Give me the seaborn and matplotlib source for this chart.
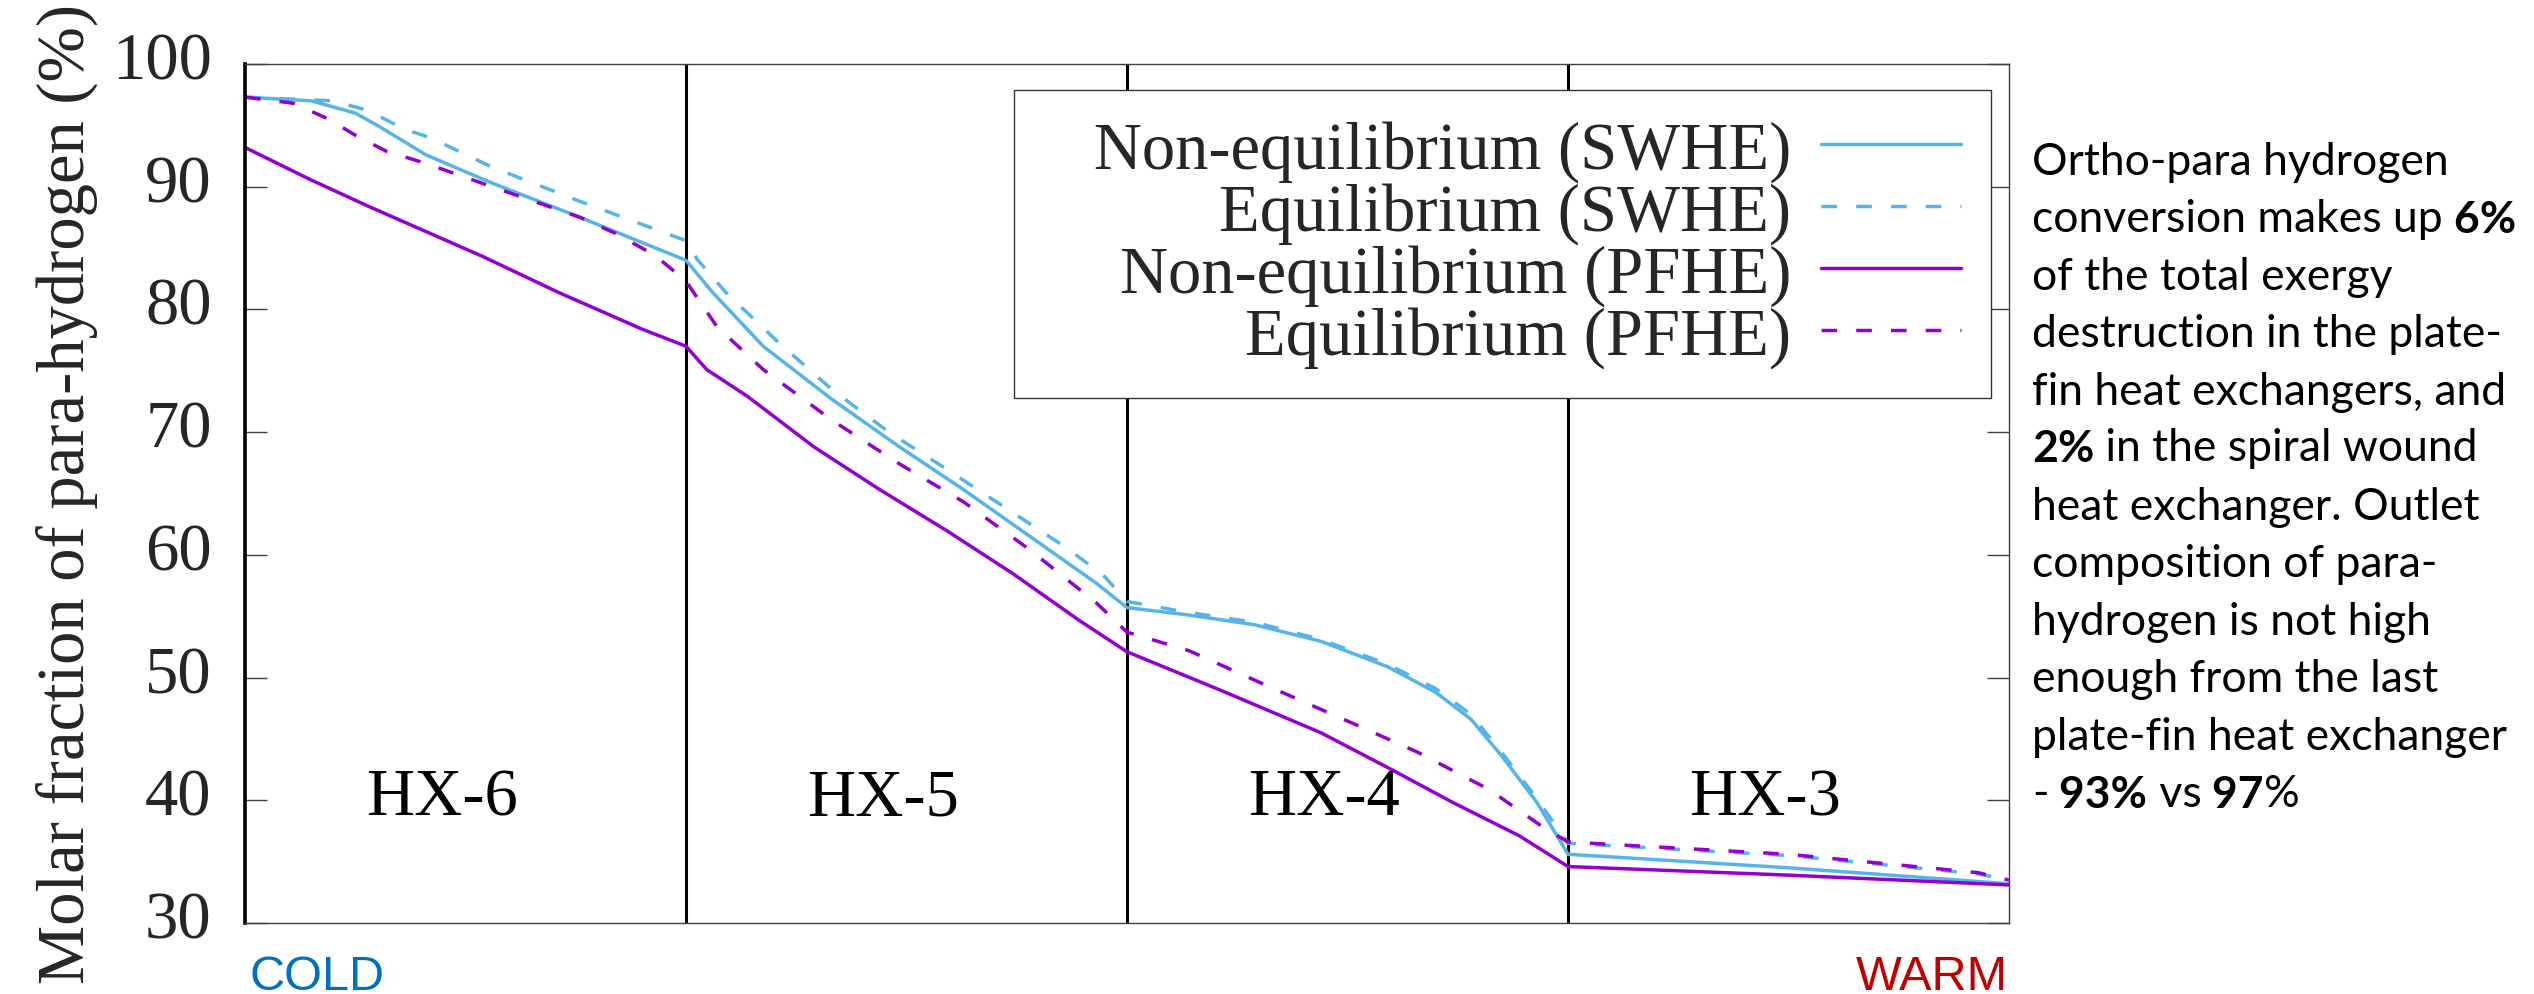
import numpy as np
import pandas as pd
import matplotlib
matplotlib.use("Agg")
import matplotlib.pyplot as plt
import matplotlib.transforms as mtransforms
import seaborn as sns

# ---------------- data ----------------
exchangers = ["HX-6", "HX-5", "HX-4", "HX-3"]
yticks = [30, 40, 50, 60, 70, 80, 90, 100]

swhe_noneq_x = [0, 0.15, 0.25, 0.30, 0.36, 0.41, 0.56, 0.76, 1.0, 1.06, 1.175, 1.33, 1.48,
                1.63, 1.78, 1.93, 2.0, 2.14, 2.29, 2.44, 2.59, 2.70, 2.78, 2.85, 2.93, 3.0, 3.5, 4.0]
swhe_noneq_y = [97.3, 97.0, 96.0, 95.0, 93.7, 92.6, 90.3, 87.5, 84.0, 81.4, 77.0, 72.7, 68.9,
                65.3, 61.5, 57.7, 55.7, 55.1, 54.3, 52.95, 50.9, 48.8, 46.6, 43.6, 39.8, 35.6, 34.5, 33.2]

swhe_eq_x = [0, 0.2, 0.28, 0.36, 0.42, 0.56, 0.76, 1.0, 1.025, 1.09, 1.21, 1.33, 1.46, 1.59,
             1.73, 1.87, 1.95, 2.0, 2.14, 2.29, 2.44, 2.59, 2.70, 2.78, 2.85, 2.93, 3.0, 3.5, 3.93, 4.0]
swhe_eq_y = [97.3, 97.0, 96.2, 94.7, 94.0, 91.6, 88.8, 85.6, 84.1, 81.4, 77.3, 73.5, 70.0, 67.0,
             63.7, 60.4, 58.2, 56.2, 55.3, 54.5, 53.1, 51.1, 49.1, 47.0, 43.9, 40.1, 36.5, 35.5, 34.0, 33.5]

pfhe_noneq_x = [0, 0.147, 0.28, 0.54, 0.71, 0.90, 1.0, 1.047, 1.14, 1.29, 1.44, 1.59, 1.74, 1.89,
                2.0, 2.21, 2.44, 2.60, 2.74, 2.89, 3.0, 3.5, 4.0]
pfhe_noneq_y = [93.2, 90.6, 88.4, 84.3, 81.4, 78.4, 77.0, 75.1, 72.9, 68.8, 65.3, 62.0, 58.5, 54.7,
                52.1, 49.0, 45.5, 42.5, 39.8, 37.1, 34.6, 33.9, 33.1]

pfhe_eq_x = [0, 0.11, 0.19, 0.25, 0.32, 0.41, 0.56, 0.76, 0.84, 0.93, 1.0, 1.07, 1.175, 1.33, 1.48,
             1.63, 1.78, 1.93, 2.0, 2.14, 2.32, 2.51, 2.66, 2.82, 2.94, 3.0, 3.5, 3.93, 4.0]
pfhe_eq_y = [97.3, 96.8, 95.5, 94.2, 92.9, 91.9, 90.0, 87.5, 86.2, 84.4, 82.3, 78.6, 75.1, 71.0, 67.5,
             64.3, 60.4, 56.1, 53.7, 52.2, 49.3, 46.3, 43.9, 40.9, 37.9, 36.6, 35.6, 34.1, 33.5]

series_labels = ["Non-equilibrium (SWHE)", "Equilibrium (SWHE)",
                 "Non-equilibrium (PFHE)", "Equilibrium (PFHE)"]

note_lines = [
    [("Ortho-para hydrogen", "normal")],
    [("conversion makes up", "normal"), (" 6%", "bold")],
    [("of the total exergy", "normal")],
    [("destruction in the plate-", "normal")],
    [("fin heat exchangers, and", "normal")],
    [("2%", "bold"), (" in the spiral wound", "normal")],
    [("heat exchanger. Outlet", "normal")],
    [("composition of para-", "normal")],
    [("hydrogen is not high", "normal")],
    [("enough from the last", "normal")],
    [("plate-fin heat exchanger", "normal")],
    [("-", "normal"), (" 93%", "bold"), (" vs", "normal"), (" 97", "bold"), ("%", "normal")],
]

# ---------------- style ----------------
sns.set_theme(style="white")
plt.rcParams["font.family"] = ["Liberation Serif", "DejaVu Serif"]

BLUE = "#56B4E9"
PURPLE = "#9400D3"
SERIF = ["Liberation Serif", "DejaVu Serif"]

fig = plt.figure(figsize=(25.34, 9.95), dpi=100)
ax = fig.add_axes([245 / 2534, 1 - 924 / 995, (2009 - 245) / 2534, (924 - 65) / 995])

series = [
    (swhe_noneq_x, swhe_noneq_y, BLUE, False),
    (swhe_eq_x, swhe_eq_y, BLUE, True),
    (pfhe_noneq_x, pfhe_noneq_y, PURPLE, False),
    (pfhe_eq_x, pfhe_eq_y, PURPLE, True),
]
handles = []
for (xs, ys, col, dashed), lab in zip(series, series_labels):
    df = pd.DataFrame({"x": xs, "y": ys})
    sns.lineplot(data=df, x="x", y="y", color=col, lw=2.5, ax=ax,
                 estimator=None, sort=False, legend=False)
    ln = ax.lines[-1]
    if dashed:
        ln.set_dashes([4.5, 5.5])
    ln.set_label(lab)
    handles.append(ln)

# exchanger boundaries
for i in range(1, len(exchangers)):
    ax.axvline(i, color="black", lw=2.2, zorder=1)

ax.set_xlim(0, len(exchangers))
ax.set_ylim(30, 100)
ax.set_xticks([])
ax.set_yticks(yticks)
ax.set_yticklabels([str(v) for v in yticks], fontsize=48, family=SERIF)
ax.tick_params(axis="y", direction="in", length=16, width=1.0, color="#404040",
               left=True, right=True, pad=24)
ax.set_xlabel("")
ax.set_ylabel("Molar fraction of para-hydrogen (%)", fontsize=48, family=SERIF)
ax.yaxis.set_label_coords(-0.0833, 0.5)

for side in ["top", "right", "bottom"]:
    ax.spines[side].set_color("#404040")
    ax.spines[side].set_linewidth(1.0)
    ax.spines[side].set_visible(True)
ax.spines["left"].set_color("black")
ax.spines["left"].set_linewidth(2.6)
ax.spines["left"].set_visible(True)

# shift y tick labels slightly upward
offset = mtransforms.ScaledTranslation(0, 6.5 / 72, fig.dpi_scale_trans)
for t in ax.yaxis.get_major_ticks():
    t.label1.set_transform(t.label1.get_transform() + offset)

# exchanger labels
for i, name in enumerate(exchangers):
    ax.text(i + 0.5 - 0.053, 38.85, name, fontsize=48, family=SERIF,
            ha="center", va="baseline", color="black")

leg_labels = ["   " + series_labels[0]] + series_labels[1:]
leg = ax.legend(handles=handles, labels=leg_labels, loc="upper right",
                bbox_to_anchor=(0.990, 0.970),
                borderaxespad=0, markerfirst=False, frameon=True, fancybox=False,
                shadow=False, framealpha=1, edgecolor="#333333",
                prop={"family": SERIF, "size": 48},
                handlelength=2.1, handletextpad=0.45, labelspacing=0.0, borderpad=0.45)
leg.get_frame().set_linewidth(1.0)
try:
    for col in leg._legend_handle_box.get_children():
        col.align = "right"
except Exception:
    pass

# COLD / WARM
fig.text(250 / 2534, 1 - 990 / 995, "COLD", color="#0070C0", fontsize=35,
         family=["Liberation Sans", "DejaVu Sans"], ha="left", va="baseline")
fig.text(2008 / 2534, 1 - 990 / 995, "WARM", color="#C00000", fontsize=35,
         family=["Liberation Sans", "DejaVu Sans"], ha="right", va="baseline")

# right-hand note with mixed weights
NOTE_FONT = ["Lato", "DejaVu Sans"]
x0 = 2032 / 2534
for i, segs in enumerate(note_lines):
    yb = 1 - (175 + i * 57.45) / 995
    last = None
    for text, weight in segs:
        if last is None:
            last = fig.text(x0, yb, text, fontsize=32, family=NOTE_FONT, weight=weight,
                            ha="left", va="baseline", color="black")
        else:
            last = ax.annotate(text, xy=(1, 0), xycoords=last, va="bottom", ha="left",
                               fontsize=32, family=NOTE_FONT, weight=weight,
                               color="black", annotation_clip=False)

fig.savefig("out.png", dpi=100)
